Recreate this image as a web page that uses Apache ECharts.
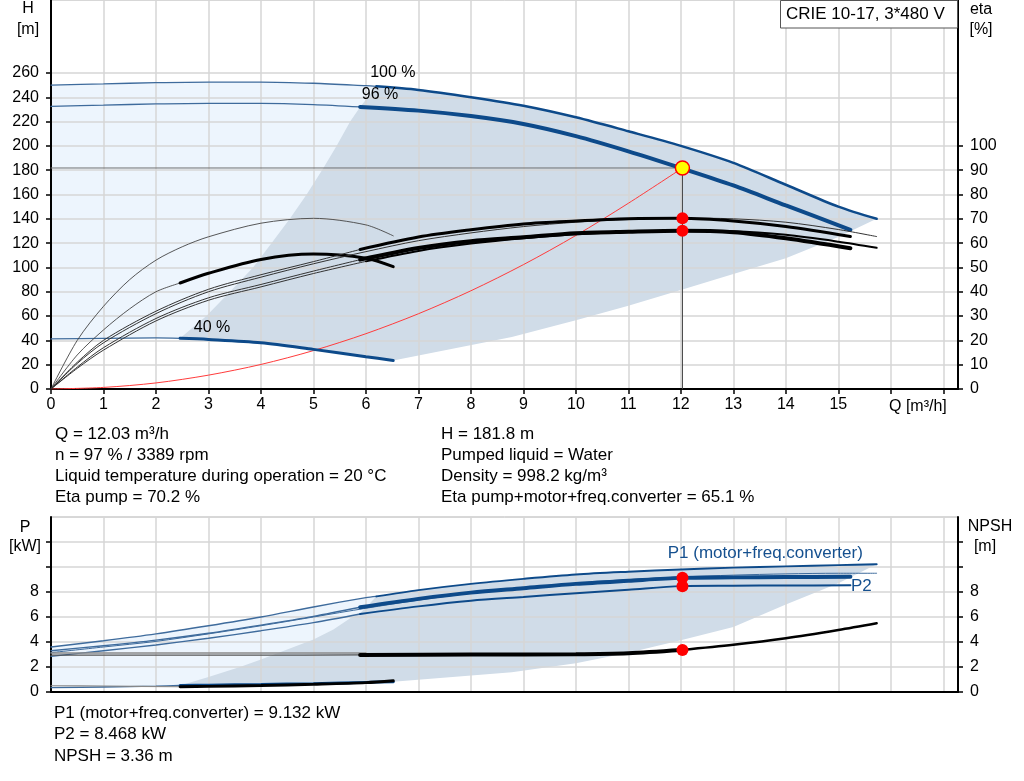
<!DOCTYPE html>
<html><head><meta charset="utf-8">
<script src="https://cdn.jsdelivr.net/npm/echarts@6/dist/echarts.min.js"></script>
<style>html,body{margin:0;padding:0;background:#fff}#c{width:1024px;height:781px}</style>
</head><body><div id="c"></div>
<script>
// ---------- axis values ----------
const qMax = 17.28;
const qLabelVals = [0,1,2,3,4,5,6,7,8,9,10,11,12,13,14,15];
const qTickVals = [0,1,2,3,4,5,6,7,8,9,10,11,12,13,14,15,16,17];
const hLabelVals = [0,20,40,60,80,100,120,140,160,180,200,220,240,260];
const etaLabelVals = [0,10,20,30,40,50,60,70,80,90,100];
const pLabelVals = [0,2,4,6,8];
const pTickVals = [0,2,4,6,8,10,12];

// ---------- head curves [Q, H] ----------
const h100 = [[0,250],[1,251],[2,252],[3,252.5],[4,252.5],[5,251.5],[6,249.5],[6.2,249],[7,246],[8,240],[9,233],[10,223.5],[11,212],[12,200],[13,186],[14,168],[15,150],[15.73,140]];
const h96 = [[0,232.5],[1,233.5],[2,234.5],[3,235],[4,235],[5,234],[5.89,232],[7,229],[8,224.5],[9,218],[10,208],[11,195.5],[12,181.8],[13,167.5],[14,151],[15.23,131]];
const h40 = [[0,41.2],[1,41.7],[2,42],[2.46,41.7],[3,40.8],[4,38.1],[5,32.6],[6,26.6],[6.52,23.5]];
const systemCurve = [[0,0],[1,1.3],[2,5],[3,11.4],[4,20.2],[5,31.6],[6,45.5],[7,61.9],[8,80.8],[9,102.3],[10,126.3],[11,152.8],[12.03,181.8]];

// ---------- efficiency curves [Q, eta] ----------
const etaPump96 = [[0,0],[0.5,11],[1,20],[2,32],[3,41],[4,47],[5,52.4],[5.89,57.4],[7,62.5],[8,65.5],[9,67.9],[10,69.1],[11,70],[12,70.2],[13,69.1],[14,66.8],[15.23,62.7]];
const etaTot96 = [[0,0],[0.5,9],[1,17],[2,29],[3,37.5],[4,43],[5,48.5],[5.89,53.2],[7,58],[8,60.8],[9,62.4],[10,64.1],[11,64.7],[12,65.1],[13,64.5],[14,62],[15.23,57.9]];
const etaPump100 = [[0,0],[0.5,10.5],[1,19],[2,31],[3,40],[4,46],[5,51.5],[6,56.5],[7,61],[8,64.2],[9,66.8],[10,68.6],[11,69.7],[12,70.3],[13,70],[14,68.6],[15,65.6],[15.73,62.7]];
const etaTot100 = [[0,0],[0.5,8.5],[1,16],[2,28],[3,36.5],[4,42],[5,47.5],[6,52.5],[7,56.8],[8,59.8],[9,62],[10,63.6],[11,64.6],[12,65.1],[13,64.9],[14,63.4],[15,60.6],[15.73,58.1]];
const etaPump40 = [[0,0],[0.5,20],[1,34],[1.5,45],[2,53],[2.5,58.5],[3,62.6],[4,68.2],[5,70.2],[6,67.5],[6.52,63]];
const etaTot40 = [[0,0],[0.5,14],[1,24.3],[1.5,33],[2,40],[2.46,43.6],[3,47.6],[4,53.3],[5,55.5],[6,53.8],[6.52,50.3]];

// ---------- operating area edges [Q, H] ----------
const areaLeftH = [[2.46,41.7],[2.96,60],[3.41,80],[3.85,100],[4.2,120],[4.55,140],[4.87,160],[5.19,181.8],[5.44,200],[5.7,220],[5.89,232],[6.2,249]];
const areaLowerH = [[15.73,140],[15,125],[14,107.6],[13,94.5],[12,81.5],[11,68.5],[10,56.5],[8.78,42.8],[6.52,23.5]];

// ---------- power / NPSH curves [Q, kW or m] ----------
const p1_100 = [[0,3.6],[1,4.1],[2,4.65],[3,5.3],[4,6.0],[5,6.8],[6,7.55],[6.2,7.65],[7,8.15],[8,8.65],[9,9.05],[10,9.4],[11,9.62],[12,9.8],[13,9.95],[14,10.05],[15,10.15],[15.73,10.22]];
const p2_100 = [[0,3.15],[1,3.6],[2,4.05],[3,4.65],[4,5.3],[5,6.0],[6,6.7],[7,7.35],[8,7.9],[9,8.35],[10,8.7],[11,9.0],[12,9.2],[13,9.35],[14,9.45],[15,9.5],[15.73,9.5]];
const p1_96 = [[0,3.3],[1,3.7],[2,4.15],[3,4.7],[4,5.35],[5,6.05],[5.89,6.78],[7,7.45],[8,7.95],[9,8.3],[10,8.65],[11,8.9],[12,9.13],[13,9.17],[14,9.2],[15.23,9.22]];
const p2_96 = [[0,2.85],[1,3.3],[2,3.76],[3,4.3],[4,4.9],[5,5.55],[5.89,6.24],[7,6.85],[8,7.3],[9,7.6],[10,7.9],[11,8.18],[12,8.47],[13,8.5],[14,8.52],[15.23,8.54]];
const npsh96 = [[0,2.95],[2,2.95],[4,2.95],[5.89,2.97],[8,3.0],[10,3.02],[11,3.1],[12,3.36],[13,3.78],[14,4.3],[15,4.96],[15.73,5.5]];
const npsh100 = [[0,3.12],[2,3.12],[4,3.12],[6,3.12]];
const p1_40 = [[0,0.35],[1,0.4],[2,0.47],[2.46,0.52],[3,0.55],[4,0.6],[5,0.67],[6,0.77],[6.52,0.82]];
const npsh40 = [[0,0.5],[1,0.48],[2.46,0.42],[3,0.45],[4,0.52],[5,0.62],[6,0.75],[6.52,0.9]];
const areaLeftP = [[2.46,0.52],[3,1.2],[3.6,2.0],[4,2.6],[4.5,3.4],[5,4.2],[5.38,5.0],[5.7,5.9],[5.89,6.3],[6.2,7.65]];
const areaLowerP = [[15.73,10.22],[15,8.7],[14,7.0],[13,5.2],[12,4.15],[11,3.15],[10,2.3],[8.78,1.58],[6.52,0.82]];

// ---------- duty point ----------
const dutyQ = 12.03, dutyH = 181.8, dutyEtaPump = 70.2, dutyEtaTot = 65.1;
const dutyP1 = 9.132, dutyP2 = 8.468, dutyNPSH = 3.36;

// ---------- texts ----------
const titleText = 'CRIE 10-17, 3*480 V';
const infoLeft = ['Q = 12.03 m³/h','n = 97 % / 3389 rpm','Liquid temperature during operation = 20 °C','Eta pump = 70.2 %'];
const infoRight = ['H = 181.8 m','Pumped liquid = Water','Density = 998.2 kg/m³','Eta pump+motor+freq.converter = 65.1 %'];
const infoBottom = ['P1 (motor+freq.converter) = 9.132 kW','P2 = 8.468 kW','NPSH = 3.36 m'];
const curveLabels = [
  {g:0, q:6.08, v:260, t:'100 %', c:'#000', s:16},
  {g:0, q:5.92, v:242.4, t:'96 %', c:'#000', s:16},
  {g:0, q:2.72, v:50.4, t:'40 %', c:'#000', s:16},
  {g:1, q:11.75, v:11.1, t:'P1 (motor+freq.converter)', c:'#15508f', s:17},
  {g:1, q:15.24, v:8.45, t:'P2', c:'#15508f', s:17}
];

const FONT = '"Liberation Sans", Arial, sans-serif';
const BLUE = '#0d4a8a';
const THINBLUE = '#3e6b9c';
const LIGHT = '#edf5fd';
const DARK = '#d0dce8';
const GRIDC = '#d6d6d6';

function upTo(a, q){ return a.filter(p => p[0] <= q + 1e-9); }
function from(a, q){ return a.filter(p => p[0] >= q - 1e-9); }
function rev(a){ return a.slice().reverse(); }

function line(data, xi, yi, color, width, z, smooth){
  return {type:'line', xAxisIndex:xi, yAxisIndex:yi, data:data, symbol:'none', showSymbol:false,
    smooth: smooth === undefined ? 0.3 : smooth, lineStyle:{color:color, width:width, cap:'round'},
    z: z || 5, silent:true, animation:false, clip:true};
}
function poly(points, xi, yi, color){
  return {type:'custom', xAxisIndex:xi, yAxisIndex:yi, coordinateSystem:'cartesian2d', data:[points[0]],
    renderItem:function(params, api){
      return {type:'polygon', shape:{points: points.map(p => api.coord(p))}, style:{fill:color}};
    }, z:1, silent:true, animation:false, clip:true};
}
function dot(data, xi, yi, fill, border, size){
  return {type:'scatter', xAxisIndex:xi, yAxisIndex:yi, data:data, symbol:'circle', symbolSize:size,
    itemStyle:{color:fill, borderColor:border, borderWidth:border ? 1.5 : 0, opacity:1}, z:9, silent:true, animation:false};
}

// polygons built from the curve arrays
const lightTop = upTo(h100, 6.2).concat(rev(h40));
const darkTop = areaLeftH.concat(h100.filter(p => p[0] > 6.2)).concat(areaLowerH).concat(rev(h40.filter(p => p[0] > 2.46 && p[0] < 6.52)));
const lightBot = upTo(p1_100, 6.2).concat(rev(p1_40));
const darkBot = areaLeftP.concat(p1_100.filter(p => p[0] > 6.2)).concat(areaLowerP).concat(rev(p1_40.filter(p => p[0] > 2.46 && p[0] < 6.52)));

const series = [
  poly(lightTop, 0, 0, LIGHT),
  poly(darkTop, 0, 0, DARK),
  poly(lightBot, 1, 2, LIGHT),
  poly(darkBot, 1, 2, DARK),
  line([[0,dutyH],[dutyQ,dutyH]], 0, 0, '#707070', 1, 4, false),
  line([[dutyQ,dutyH],[dutyQ,0]], 0, 0, '#404040', 1, 4, false),
  line(systemCurve, 0, 0, '#ff3b3b', 1, 5),
  line(upTo(h100, 6.2), 0, 0, THINBLUE, 1.3),
  line(from(h100, 6.2), 0, 0, BLUE, 2.5),
  line(upTo(h96, 5.89), 0, 0, THINBLUE, 1.3),
  line(from(h96, 5.89), 0, 0, BLUE, 4),
  line(upTo(h40, 2.46), 0, 0, THINBLUE, 1.3),
  line(from(h40, 2.46), 0, 0, BLUE, 3),
  line(etaPump40, 0, 1, '#444', 0.9),
  line(upTo(etaTot40, 2.46), 0, 1, '#444', 0.9),
  line(from(etaTot40, 2.46), 0, 1, '#000', 3),
  line(etaPump100, 0, 1, '#333', 1),
  line(upTo(etaTot100, 6), 0, 1, '#333', 1),
  line(from(etaTot100, 6), 0, 1, '#000', 2),
  line(upTo(etaPump96, 5.89), 0, 1, '#333', 1),
  line(from(etaPump96, 5.89), 0, 1, '#000', 3),
  line(upTo(etaTot96, 5.89), 0, 1, '#333', 1),
  line(from(etaTot96, 5.89), 0, 1, '#000', 4),
  line(upTo(p1_100, 6.2), 1, 2, THINBLUE, 1.3),
  line(from(p1_100, 6.2), 1, 2, BLUE, 2),
  line(p2_100, 1, 2, THINBLUE, 1),
  line(upTo(p1_96, 5.89), 1, 2, THINBLUE, 1.3),
  line(from(p1_96, 5.89), 1, 2, BLUE, 4),
  line(upTo(p2_96, 5.89), 1, 2, THINBLUE, 1.3),
  line(from(p2_96, 5.89), 1, 2, BLUE, 2),
  line(npsh100, 1, 2, '#8a8a8a', 1.5),
  line(upTo(npsh96, 5.89), 1, 2, '#555', 1.3),
  line(from(npsh96, 5.89).filter(p => p[0] <= 12), 1, 2, '#000', 4),
  line(from(npsh96, 12), 1, 2, '#000', 2.5),
  line(upTo(p1_40, 2.46), 1, 2, THINBLUE, 1.3),
  line(from(p1_40, 2.46), 1, 2, BLUE, 3),
  line(upTo(npsh40, 2.46), 1, 2, '#888', 1.2),
  line(from(npsh40, 2.46), 1, 2, '#000', 3),
  dot([[dutyQ, dutyEtaPump],[dutyQ, dutyEtaTot]], 0, 1, '#ff0000', null, 12),
  dot([[dutyQ, dutyH]], 0, 0, '#ffff00', '#ff0000', 14),
  dot([[dutyQ, dutyP1],[dutyQ, dutyP2],[dutyQ, dutyNPSH]], 1, 2, '#ff0000', null, 12)
];

const tickStyle = {color:'#000', width:1.5};
const lblStyle = {fontSize:16, color:'#000', fontFamily:FONT};
function yAx(gi, max, interval, pos, labelVals, tickVals){
  return {gridIndex:gi, type:'value', min:0, max:max, interval:interval, position:pos, z:3,
    axisLine:{show:true, onZero:false, lineStyle:{color:'#000', width:2}},
    axisTick:{show:true, length:5, customValues:tickVals, lineStyle:tickStyle},
    axisLabel:Object.assign({customValues:labelVals, margin:12}, lblStyle),
    splitLine:{show: pos === 'left', lineStyle:{color:GRIDC, width:1.5}}};
}

const graphics = [];
function txt(x, y, s, size, align, color){
  graphics.push({type:'text', x:x, y:y, z:20, style:{text:s, fontSize:size, fontFamily:FONT, fill:color || '#000', align:align || 'left', verticalAlign:'middle'}});
}
txt(28, 9, 'H', 16, 'center'); txt(28, 30, '[m]', 16, 'center');
txt(981, 10, 'eta', 16, 'center'); txt(981, 30, '[%]', 16, 'center');
txt(25, 528, 'P', 16, 'center'); txt(25, 547, '[kW]', 16, 'center');
txt(990, 527, 'NPSH', 16, 'center'); txt(985, 547, '[m]', 16, 'center');
txt(889, 407, 'Q [m³/h]', 16, 'left');
infoLeft.forEach((s, i) => txt(55, 434 + i * 21, s, 17));
infoRight.forEach((s, i) => txt(441, 434 + i * 21, s, 17));
infoBottom.forEach((s, i) => txt(54, 713.5 + i * 21.2, s, 17));
graphics.push({type:'rect', z:19, shape:{x:780.5, y:0.5, width:177, height:27.5}, style:{fill:'#fff', stroke:'#555', lineWidth:1}});
txt(786, 14, titleText, 17);

const option = {
  backgroundColor:'#fff',
  animation:false,
  grid:[
    {left:51, top:0, width:907, height:389, show:true, backgroundColor:'transparent', borderColor:'#b0b0b0', borderWidth:1, containLabel:false, outerBoundsMode:'none'},
    {left:51, top:517, width:907, height:175, show:true, backgroundColor:'transparent', borderColor:'#b0b0b0', borderWidth:1, containLabel:false, outerBoundsMode:'none'}
  ],
  xAxis:[
    {gridIndex:0, type:'value', min:0, max:qMax, interval:1, z:3,
      axisLine:{show:true, onZero:false, lineStyle:{color:'#000', width:2}},
      axisTick:{show:true, length:5, customValues:qTickVals, lineStyle:tickStyle},
      axisLabel:Object.assign({customValues:qLabelVals, margin:8}, lblStyle),
      splitLine:{show:true, lineStyle:{color:GRIDC, width:1.5}}},
    {gridIndex:1, type:'value', min:0, max:qMax, interval:1, z:3,
      axisLine:{show:true, onZero:false, lineStyle:{color:'#000', width:2}},
      axisTick:{show:false}, axisLabel:{show:false},
      splitLine:{show:true, lineStyle:{color:GRIDC, width:1.5}}}
  ],
  yAxis:[
    yAx(0, 320, 20, 'left', hLabelVals, hLabelVals),
    yAx(0, 160, 10, 'right', etaLabelVals, etaLabelVals),
    yAx(1, 14, 2, 'left', pLabelVals, pTickVals),
    yAx(1, 14, 2, 'right', pLabelVals, pTickVals)
  ],
  graphic: graphics,
  series: series
};
const chart = echarts.init(document.getElementById('c'));
chart.setOption(option);

// curve labels placed at data coordinates through the chart's own scales
curveLabels.forEach(l => {
  const px = chart.convertToPixel({xAxisIndex:l.g, yAxisIndex:l.g === 0 ? 0 : 2}, [l.q, l.v]);
  txt(px[0], px[1], l.t, l.s, 'left', l.c);
});
chart.setOption({graphic: graphics});
</script>
</body></html>
